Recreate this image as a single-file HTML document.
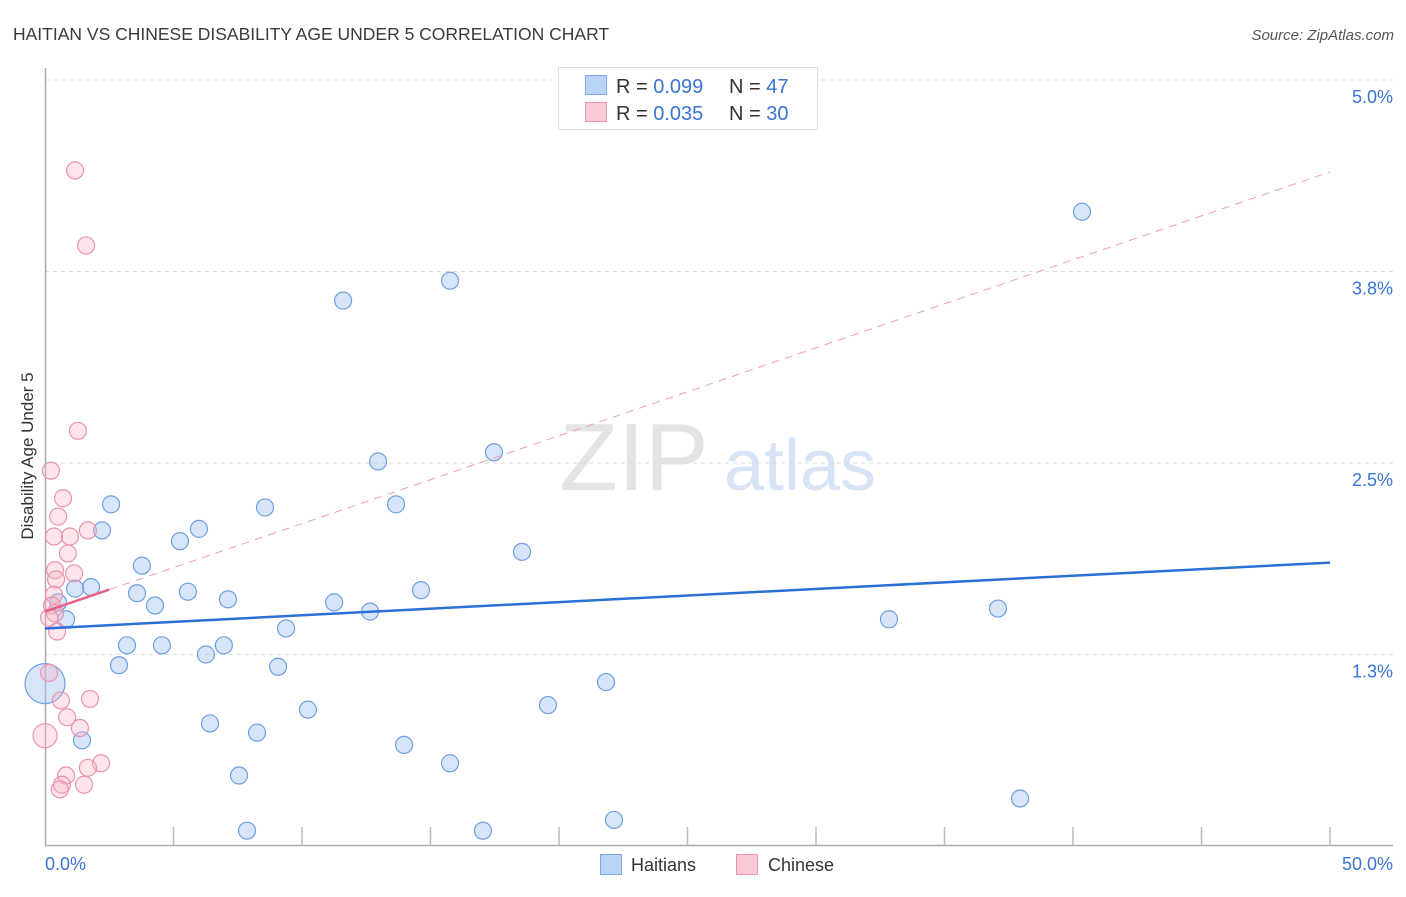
<!DOCTYPE html>
<html><head><meta charset="utf-8">
<style>
body{margin:0;background:#fff;font-family:"Liberation Sans",sans-serif;}
svg text{font-family:"Liberation Sans",sans-serif;}
</style></head>
<body>
<svg id="chart" width="1406" height="892" viewBox="0 0 1406 892" xmlns="http://www.w3.org/2000/svg">
<text x="13" y="40" font-size="17.5" fill="#3a3a3a">HAITIAN VS CHINESE DISABILITY AGE UNDER 5 CORRELATION CHART</text>
<text x="1394" y="40" font-size="15" fill="#555" text-anchor="end" font-style="italic">Source: ZipAtlas.com</text>
<g>
<text x="634" y="490" font-size="96" fill="#e4e4e4" text-anchor="middle" font-family="Liberation Serif, serif">ZIP</text>
<text x="800" y="490" font-size="72" fill="#d6e4f5" text-anchor="middle">atlas</text>
</g>
<g id="grid"></g>
<g id="axes"></g>
<g id="lines"></g>
<g id="points"></g>
<text transform="translate(33,456) rotate(-90)" font-size="17" fill="#333" text-anchor="middle">Disability Age Under 5</text>
<g>
<rect x="558.5" y="67.5" width="259" height="62" fill="#fff" stroke="#ddd"/>
<rect x="585.5" y="75.5" width="21" height="19" fill="#b9d3f5" stroke="#7aaae6"/>
<rect x="585.5" y="102.5" width="21" height="19" fill="#fbc8d5" stroke="#f097b0"/>
<text x="616" y="93" font-size="20" fill="#333">R = <tspan fill="#3a74d4">0.099</tspan><tspan x="729">N = </tspan><tspan fill="#3a74d4">47</tspan></text>
<text x="616" y="120" font-size="20" fill="#333">R = <tspan fill="#3a74d4">0.035</tspan><tspan x="729">N = </tspan><tspan fill="#3a74d4">30</tspan></text>
</g>
<g>
<rect x="600.5" y="854.5" width="21" height="20" fill="#b9d3f5" stroke="#7aaae6"/>
<text x="631" y="871" font-size="18" fill="#333">Haitians</text>
</g>
<g>
<rect x="736.5" y="854.5" width="21" height="20" fill="#fbc8d5" stroke="#f097b0"/>
<text x="768" y="871" font-size="18" fill="#333">Chinese</text>
</g>
</svg>
<script>
const yTicks=[1.25,2.5,3.75,5.0];
const yTickLabels=["1.3%","2.5%","3.8%","5.0%"];
const xTickLabels=["0.0%","50.0%"];
const haitiansX=[40.35,15.76,11.60,17.47,12.96,2.57,8.56,13.66,2.22,5.99,5.25,18.56,3.77,1.79,1.17,5.56,3.58,14.63,7.12,4.28,11.25,0.51,12.65,37.08,32.84,0.82,9.38,3.19,4.55,6.96,6.26,2.88,9.07,0,21.83,19.57,10.23,6.42,8.25,1.44,13.97,15.76,7.55,37.94,7.86,17.04,22.14];
const haitiansY=[4.14,3.69,3.56,2.57,2.51,2.23,2.21,2.23,2.06,2.07,1.99,1.92,1.83,1.69,1.68,1.66,1.65,1.67,1.61,1.57,1.59,1.59,1.53,1.55,1.48,1.48,1.42,1.31,1.31,1.31,1.25,1.18,1.17,1.06,1.07,0.92,0.89,0.80,0.74,0.69,0.66,0.54,0.46,0.31,0.10,0.10,0.17];
const chineseX=[1.17,1.60,1.28,0.23,0.70,0.51,1.67,0.97,0.35,0.89,0.39,1.13,0.43,0.35,0.27,0.39,0.16,0.47,0.16,0,1.75,0.62,0.86,1.36,2.18,1.67,0.82,0.66,1.52,0.58];
const chineseY=[4.41,3.92,2.71,2.45,2.27,2.15,2.06,2.02,2.02,1.91,1.80,1.78,1.74,1.64,1.57,1.52,1.49,1.40,1.13,0.72,0.96,0.95,0.84,0.77,0.54,0.51,0.46,0.40,0.40,0.37];
const haitiansTrend=[1.42,1.85];
const chineseTrend=[1.53,4.40];
const NS="http://www.w3.org/2000/svg";
const X=v=>45+v/50*1285;
const Y=v=>846-v/5*766;
function mk(parent,tag,attrs){const e=document.createElementNS(NS,tag);for(const k in attrs)e.setAttribute(k,attrs[k]);document.getElementById(parent).appendChild(e);return e;}
yTicks.forEach((t,i)=>{
 const g=mk('grid','line',{x1:45,x2:1393,y1:Y(t),y2:Y(t),stroke:'#ddd','stroke-dasharray':'4,4'});
 
 
 const l=mk('grid','text',{x:1393,y:Y(t)+23,'font-size':18,fill:'#3a74d4','text-anchor':'end'});
 l.textContent=yTickLabels[i];
 
 
});
const ax=mk('axes','path',{d:'M45.5,68V845.5H1393',fill:'none',stroke:'#aaa','stroke-width':1.5});


for(let i=1;i<=10;i++){
 const t=mk('axes','line',{x1:X(i*5),x2:X(i*5),y1:827,y2:845,stroke:'#bbb','stroke-width':1.5});
 
 
}
const xl0=mk('axes','text',{x:45,y:870,'font-size':18,fill:'#3a74d4'});xl0.textContent=xTickLabels[0];


const xl1=mk('axes','text',{x:1393,y:870,'font-size':18,fill:'#3a74d4','text-anchor':'end'});xl1.textContent=xTickLabels[1];


const cy=v=>chineseTrend[0]+(chineseTrend[1]-chineseTrend[0])*v/50;
const pd=mk('lines','line',{x1:X(2.5),y1:Y(cy(2.5)),x2:X(50),y2:Y(cy(50)),stroke:'#e8a0b5','stroke-width':1,'stroke-dasharray':'8,6'});


function drawPts(xs,ys,fill,stroke,name){
 xs.forEach((x,i)=>{
  const big=(x===0);
  const c=mk('points','circle',{cx:X(x),cy:Y(ys[i]),r:big?(name==='haitian-point'?20:12):8.5,fill:fill,stroke:stroke,'stroke-width':1.2});
  
  
 });
}
drawPts(haitiansX,haitiansY,'rgba(165,198,240,0.45)','#6f9fe0','haitian-point');
drawPts(chineseX,chineseY,'rgba(248,180,198,0.35)','#ec93ad','chinese-point');
const bl=mk('lines','line',{x1:X(0),y1:Y(haitiansTrend[0]),x2:X(50),y2:Y(haitiansTrend[1]),stroke:'#2a6fd6','stroke-width':2.5});


const pl=mk('lines','line',{x1:X(0),y1:Y(cy(0)),x2:X(2.5),y2:Y(cy(2.5)),stroke:'#e8608a','stroke-width':2.5});


document.getElementById('chart').appendChild(document.getElementById('lines'));
</script>
</body></html>
